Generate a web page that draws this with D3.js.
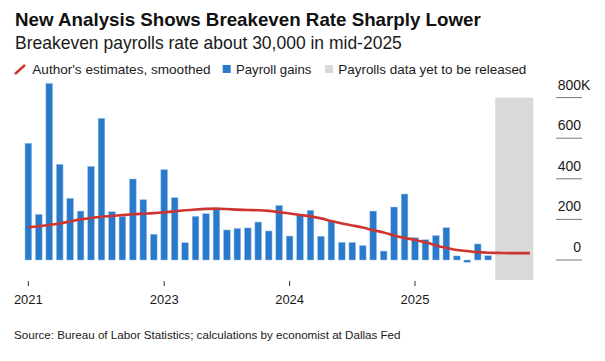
<!DOCTYPE html>
<html>
<head>
<meta charset="utf-8">
<script src="https://cdn.jsdelivr.net/npm/d3@7"></script>
<style>
  html, body { margin: 0; padding: 0; background: #ffffff; }
  svg { display: block; font-family: "Liberation Sans", Arial, sans-serif; }
</style>
</head>
<body>
<svg id="chart" width="605" height="361"></svg>
<script>
// ---- Data ----
const months = [
  "2021-12",
  "2022-01","2022-02","2022-03","2022-04","2022-05","2022-06","2022-07","2022-08","2022-09","2022-10","2022-11","2022-12",
  "2023-01","2023-02","2023-03","2023-04","2023-05","2023-06","2023-07","2023-08","2023-09","2023-10","2023-11","2023-12",
  "2024-01","2024-02","2024-03","2024-04","2024-05","2024-06","2024-07","2024-08","2024-09","2024-10","2024-11","2024-12",
  "2025-01","2025-02","2025-03","2025-04","2025-05","2025-06","2025-07","2025-08","2025-09","2025-10","2025-11","2025-12"
];
// Payroll gains, thousands (null = not yet released)
const payrollGains = [
  575,
  225, 870, 471, 304, 241, 461, 698, 238, 213, 399, 297, 127,
  445, 307, 85, 215, 228, 254, 148, 156, 158, 187, 143, 269,
  118, 222, 245, 117, 189, 87, 87, 71, 241, 44, 261, 325,
  110, 100, 120, 159, 20, -11, 79, 21, null, null, null, null
];
// Author's estimates, smoothed (breakeven rate), thousands
const breakeven = [
  161,
  166, 172, 180, 190, 200, 207, 213, 217, 221, 225, 228, 231,
  235, 240, 245, 249, 252, 253, 251, 248, 246, 245, 242, 236,
  229, 222, 215, 205, 192, 180, 170, 160, 147, 136, 121, 109,
  99, 87, 72, 60, 49, 44, 39, 36, 35, 34, 34, 34
];
const pendingMonths = ["2025-09", "2025-12"];
const xTickMonths = ["2021-12", "2023-01", "2024-01", "2025-01"];
const xTickLabels = ["2021", "2023", "2024", "2025"];
const yTicks = [0, 200, 400, 600, 800];
const yTickLabels = ["0", "200", "400", "600", "800"];

const titleText = "New Analysis Shows Breakeven Rate Sharply Lower";
const subtitleText = "Breakeven payrolls rate about 30,000 in mid-2025";
const legendItems = ["Author's estimates, smoothed", "Payroll gains", "Payrolls data yet to be released"];
const sourceText = "Source: Bureau of Labor Statistics; calculations by economist at Dallas Fed";

// ---- Styles ----
const BLUE = "#2a7acc";
const RED = "#cf3530";
const GRAY = "#d9d9d9";
const TEXT = "#1a1a1a";

const svg = d3.select("#chart");

function fitWidth(sel, target) {
  const node = sel.node();
  const fs = parseFloat(sel.attr("font-size"));
  const len = node.getComputedTextLength();
  if (len > 0) sel.attr("font-size", (fs * target / len).toFixed(2));
  return sel;
}

// ---- Titles ----
fitWidth(svg.append("text").attr("x", 15).attr("y", 26)
  .attr("font-size", 18).attr("font-weight", "bold").attr("fill", "#111")
  .text(titleText), 466);
fitWidth(svg.append("text").attr("x", 15).attr("y", 49)
  .attr("font-size", 16).attr("fill", TEXT)
  .text(subtitleText), 387);

// ---- Legend ----
const lg = svg.append("g");
lg.append("line").attr("x1", 15).attr("y1", 74).attr("x2", 25).attr("y2", 65)
  .attr("stroke", RED).attr("stroke-width", 2.5);
fitWidth(lg.append("text").attr("x", 32.3).attr("y", 74).attr("font-size", 13).attr("fill", TEXT)
  .text(legendItems[0]), 178.4);
lg.append("rect").attr("x", 222.7).attr("y", 65).attr("width", 8).attr("height", 8).attr("fill", BLUE);
fitWidth(lg.append("text").attr("x", 236).attr("y", 74).attr("font-size", 13).attr("fill", TEXT)
  .text(legendItems[1]), 75.4);
lg.append("rect").attr("x", 325).attr("y", 65).attr("width", 8).attr("height", 8).attr("fill", GRAY);
fitWidth(lg.append("text").attr("x", 338.3).attr("y", 74).attr("font-size", 13).attr("fill", TEXT)
  .text(legendItems[2]), 188.2);

// ---- Scales ----
const x = d3.scaleBand().domain(months).range([25, 533.3]).paddingInner(0.36).paddingOuter(0);
const y = d3.scaleLinear().domain([0, 800]).range([260, 97.6]);
const plotBottom = 280;

// pending data band
svg.append("rect")
  .attr("x", x(pendingMonths[0]))
  .attr("y", y(800))
  .attr("width", x(pendingMonths[1]) + x.bandwidth() - x(pendingMonths[0]))
  .attr("height", plotBottom - y(800))
  .attr("fill", GRAY);

// y axis (right)
const yAxis = d3.axisRight(y).tickValues(yTicks).tickSize(0).tickFormat("");
const yg = svg.append("g").call(yAxis);
yg.select(".domain").remove();
const yt = svg.append("g");
yTicks.forEach((v, i) => {
  yt.append("line").attr("x1", 556).attr("x2", 582).attr("y1", y(v)).attr("y2", y(v))
    .attr("stroke", "#777").attr("stroke-width", 1);
  yt.append("text").attr("x", 581).attr("y", y(v) - 8).attr("text-anchor", "end")
    .attr("font-size", 14).attr("fill", TEXT).text(yTickLabels[i]);
  if (i === yTicks.length - 1) {
    yt.append("text").attr("x", 581).attr("y", y(v) - 8).attr("text-anchor", "start")
      .attr("font-size", 14).attr("fill", TEXT).text("K");
  }
});

// bars
const barData = months.map((m, i) => ({ m, v: payrollGains[i] })).filter(d => d.v !== null);
svg.append("g").selectAll("rect").data(barData).join("rect")
  .attr("x", d => x(d.m))
  .attr("width", x.bandwidth())
  .attr("y", d => y(Math.max(0, d.v)))
  .attr("height", d => Math.abs(y(d.v) - y(0)))
  .attr("fill", BLUE)
  .attr("stroke", "#9cc4ec").attr("stroke-width", 0.5);

// breakeven line
const lineData = months.map((m, i) => ({ m, v: breakeven[i] }));
svg.append("path").datum(lineData)
  .attr("fill", "none").attr("stroke", RED).attr("stroke-width", 2.6)
  .attr("stroke-linejoin", "round").attr("stroke-linecap", "butt")
  .attr("d", d3.line().x(d => x(d.m) + x.bandwidth() / 2).y(d => y(d.v)).curve(d3.curveMonotoneX));

// x axis
const xAxis = d3.axisBottom(x).tickValues(xTickMonths).tickSize(5).tickPadding(9)
  .tickFormat((d) => xTickLabels[xTickMonths.indexOf(d)]);
const xg = svg.append("g").attr("transform", `translate(0,${281})`).call(xAxis);
xg.select(".domain").remove();
xg.selectAll(".tick line").attr("stroke", "#333");
xg.selectAll(".tick text").attr("font-size", 13).attr("fill", TEXT)
  .attr("font-family", "Liberation Sans, Arial, sans-serif");

// source
fitWidth(svg.append("text").attr("x", 14).attr("y", 339).attr("font-size", 11).attr("fill", TEXT)
  .text(sourceText), 387);
</script>
</body>
</html>
